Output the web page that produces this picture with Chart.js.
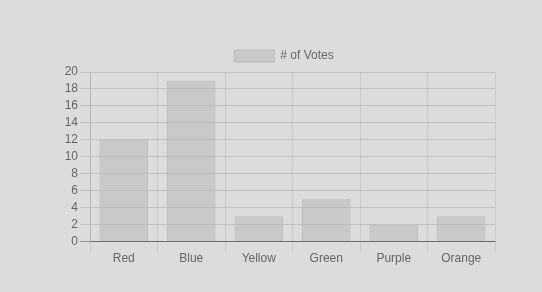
<!DOCTYPE html>
<html>
<head>
<meta charset="utf-8">
<script src="https://cdn.jsdelivr.net/npm/chart.js@4/dist/chart.umd.min.js"></script>
<style>
  html, body { margin: 0; padding: 0; background: #dcdcdc; }
  #wrap { width: 542px; height: 292px; }
</style>
</head>
<body>
<div id="wrap"><canvas id="chart"></canvas></div>
<script>
const labels = ['Red', 'Blue', 'Yellow', 'Green', 'Purple', 'Orange'];
const votes = [12, 19, 3, 5, 2, 3];
const yTicks = { min: 0, max: 20, step: 2 };

Chart.defaults.font.family = '"Liberation Sans", Arial, sans-serif';
Chart.defaults.font.size = 12;
Chart.defaults.color = '#666';

// y: zero line a bit darker; x: no line at the far right edge
const yGrid = (ctx) => ctx.index === 0 ? 'rgba(0,0,0,0.3)' : 'rgba(0,0,0,0.12)';
const xGrid = (ctx) => ctx.index === labels.length ? 'rgba(0,0,0,0)' : 'rgba(0,0,0,0.08)';

// y axis is squeezed so the legend sits a little right; widen it back after layout
// so its tick labels are not clipped
const widenY = {
  id: 'widenY',
  afterLayout(chart) {
    const y = chart.scales.y;
    y.left = y.right - 30;
    y.width = 30;
  }
};

new Chart(document.getElementById('chart'), {
  type: 'bar',
  data: {
    labels: labels,
    datasets: [{
      label: '# of Votes',
      data: votes,
      backgroundColor: 'rgba(185,185,185,0.55)',
      borderColor: 'rgba(170,170,170,0.6)',
      borderWidth: 1
    }]
  },
  options: {
    responsive: true,
    maintainAspectRatio: false,
    animation: false,
    layout: { padding: { top: 40, left: 73, right: 47, bottom: 26 } },
    plugins: {
      legend: {
        labels: { boxWidth: 40, boxHeight: 12, color: '#666' }
      },
      tooltip: { enabled: false }
    },
    scales: {
      x: {
        grid: { color: xGrid, tickLength: 10 },
        border: { color: 'rgba(0,0,0,0.3)' },
        ticks: { color: '#666', padding: 0 }
      },
      y: {
        min: yTicks.min,
        max: yTicks.max,
        afterFit: (axis) => { axis.width = 17; },
        grid: { color: yGrid, tickLength: 10 },
        border: { color: 'rgba(0,0,0,0.1)' },
        ticks: { stepSize: yTicks.step, autoSkip: false, color: '#666', padding: 2 }
      }
    }
  },
  plugins: [widenY]
});
</script>
</body>
</html>
